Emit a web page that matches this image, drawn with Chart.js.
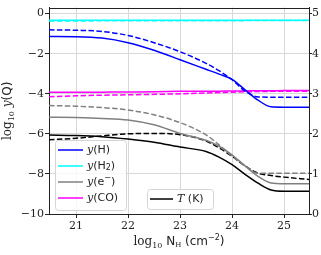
<!DOCTYPE html>
<html>
<head>
<meta charset="utf-8">
<script src="https://cdn.jsdelivr.net/npm/chart.js@4/dist/chart.umd.min.js"></script>
<style>
  body { margin: 0; background: #fff; }
  #c { display: block; }
</style>
</head>
<body>
<canvas id="c" width="321" height="255"></canvas>
<script>
// log10 N_H column
const xs = [20.48, 21, 21.5, 22, 22.5, 23, 23.5, 23.75, 24, 24.25, 24.5, 24.75, 25, 25.48];

// log10 abundances, solid / dashed models
const yH      = [-1.14, -1.15, -1.22, -1.45, -1.83, -2.30, -2.78, -3.02, -3.28, -3.80, -4.32, -4.65, -4.67, -4.67];
const yHd     = [-0.81, -0.83, -0.89, -1.09, -1.45, -1.90, -2.48, -2.85, -3.30, -3.87, -4.16, -4.17, -4.17, -4.17];
const yH2     = [-0.33, -0.33, -0.33, -0.33, -0.33, -0.33, -0.33, -0.33, -0.33, -0.33, -0.33, -0.33, -0.33, -0.33];
const yH2d    = [-0.37, -0.37, -0.36, -0.36, -0.36, -0.36, -0.35, -0.35, -0.35, -0.35, -0.34, -0.34, -0.34, -0.34];
const yE      = [-5.17, -5.19, -5.23, -5.31, -5.55, -5.98, -6.32, -6.62, -7.05, -7.60, -8.12, -8.45, -8.49, -8.49];
const yEd     = [-4.59, -4.62, -4.69, -4.81, -5.05, -5.44, -6.05, -6.55, -7.10, -7.60, -7.97, -7.97, -7.97, -7.97];
const yCO     = [-3.93, -3.93, -3.92, -3.91, -3.90, -3.88, -3.87, -3.87, -3.86, -3.86, -3.85, -3.85, -3.84, -3.84];
const yCOd    = [-4.15, -4.10, -4.07, -4.05, -4.03, -4.00, -3.96, -3.94, -3.92, -3.90, -3.89, -3.88, -3.87, -3.87];

// log10 T (right axis)
const tK      = [1.97, 1.96, 1.93, 1.87, 1.79, 1.67, 1.56, 1.42, 1.23, 0.99, 0.77, 0.60, 0.57, 0.57];
const tKd     = [1.85, 1.89, 1.95, 2.00, 2.01, 1.98, 1.82, 1.65, 1.44, 1.20, 1.02, 0.96, 0.92, 0.86];

const xTicks  = [21, 22, 23, 24, 25];
const yTicks  = [-10, -8, -6, -4, -2, 0];
const y2Ticks = [0, 1, 2, 3, 4, 5];

const serif = "'DejaVu Serif', serif";
const sans = "'DejaVu Sans', sans-serif";
const ink = '#222';
const dash = [5.5, 2.4];

const pts = (ys) => xs.map((x, i) => ({x: x, y: ys[i]}));
const minus = (v) => (v < 0 ? '\u2212' : '') + Math.abs(v);

function line(data, color, dashed, axis) {
    return {
        data: pts(data),
        borderColor: color,
        borderWidth: 1.5,
        borderDash: dashed ? dash : [],
        pointRadius: 0,
        cubicInterpolationMode: 'monotone',
        yAxisID: axis || 'y',
    };
}

// draw a run of text pieces, each with its own font and vertical shift
function richWidth(ctx, parts) {
    let w = 0;
    for (const p of parts) { ctx.font = p.f; w += ctx.measureText(p.t).width; }
    return w;
}
function richText(ctx, parts, x, y) {
    for (const p of parts) {
        ctx.font = p.f;
        ctx.fillText(p.t, x, y + (p.dy || 0));
        x += ctx.measureText(p.t).width;
    }
}

const legendA = [
    {c: 'blue', parts: [{t: 'y', f: 'italic 11px ' + serif}, {t: '(H)', f: '11px ' + sans}]},
    {c: 'cyan', parts: [{t: 'y', f: 'italic 11px ' + serif}, {t: '(H', f: '11px ' + sans}, {t: '2', f: '8px ' + sans, dy: 2}, {t: ')', f: '11px ' + sans}]},
    {c: 'gray', parts: [{t: 'y', f: 'italic 11px ' + serif}, {t: '(e', f: '11px ' + sans}, {t: '\u2212', f: '8px ' + sans, dy: -4}, {t: ')', f: '11px ' + sans}]},
    {c: 'magenta', parts: [{t: 'y', f: 'italic 11px ' + serif}, {t: '(CO)', f: '11px ' + sans}]},
];

function box(ctx, x, y, w, h) {
    ctx.save();
    ctx.beginPath();
    ctx.roundRect(x + 0.5, y + 0.5, w, h, 3);
    ctx.fillStyle = 'rgba(255,255,255,0.8)';
    ctx.fill();
    ctx.strokeStyle = '#d5d5d5';
    ctx.lineWidth = 1;
    ctx.stroke();
    ctx.restore();
}

const decor = {
    id: 'decor',
    afterDraw(chart) {
        const ctx = chart.ctx;
        const a = chart.chartArea;
        ctx.save();

        // top spine
        ctx.strokeStyle = ink;
        ctx.lineWidth = 1;
        ctx.beginPath();
        ctx.moveTo(a.left, Math.round(a.top) + 0.5);
        ctx.lineTo(a.right, Math.round(a.top) + 0.5);
        ctx.stroke();

        ctx.fillStyle = ink;
        ctx.textBaseline = 'middle';

        // legend for abundances
        box(ctx, 55, 140, 71, 70);
        legendA.forEach((e, i) => {
            const yy = 150 + i * 16;
            ctx.strokeStyle = e.c;
            ctx.lineWidth = 1.5;
            ctx.beginPath();
            ctx.moveTo(58, yy);
            ctx.lineTo(83, yy);
            ctx.stroke();
            richText(ctx, e.parts, 87, yy);
        });

        // legend for temperature
        box(ctx, 147, 189, 66, 20);
        ctx.strokeStyle = 'black';
        ctx.lineWidth = 1.5;
        ctx.beginPath();
        ctx.moveTo(150, 199);
        ctx.lineTo(173, 199);
        ctx.stroke();
        richText(ctx, [{t: 'T', f: 'italic 11px ' + serif}, {t: ' (K)', f: '11px ' + sans}], 177, 199);

        // x title
        ctx.textBaseline = 'alphabetic';
        const xt = [
            {t: 'log', f: '12px ' + serif},
            {t: '10', f: '8px ' + serif, dy: 3},
            {t: ' N', f: '12px ' + sans},
            {t: 'H', f: '7px ' + serif, dy: 2},
            {t: ' (cm', f: '12px ' + sans},
            {t: '\u22122', f: '8px ' + sans, dy: -5},
            {t: ')', f: '12px ' + sans},
        ];
        const cx = (a.left + a.right) / 2;
        richText(ctx, xt, cx - richWidth(ctx, xt) / 2, 245);

        // y title, rotated
        const yt = [
            {t: 'log', f: '12px ' + serif},
            {t: '10', f: '8px ' + serif, dy: 3},
            {t: ' ', f: '12px ' + serif},
            {t: 'y', f: 'italic 12px ' + serif},
            {t: '(Q)', f: '12px ' + sans},
        ];
        ctx.translate(11, (a.top + a.bottom) / 2);
        ctx.rotate(-Math.PI / 2);
        richText(ctx, yt, -richWidth(ctx, yt) / 2, 0);
        ctx.restore();
    }
};

const tickFont = {family: serif, size: 11};

new Chart(document.getElementById('c').getContext('2d'), {
    type: 'line',
    data: {
        datasets: [
            line(yH, 'blue', false),
            line(yHd, 'blue', true),
            line(yH2, 'cyan', false),
            line(yH2d, 'cyan', true),
            line(yE, 'gray', false),
            line(yEd, 'gray', true),
            line(yCO, 'magenta', false),
            line(yCOd, 'magenta', true),
            line(tK, 'black', false, 'y2'),
            line(tKd, 'black', true, 'y2'),
        ]
    },
    options: {
        responsive: false,
        animation: false,
        devicePixelRatio: 1,
        layout: {padding: {top: 7, left: 0, right: 0, bottom: 0}},
        plugins: {legend: {display: false}, tooltip: {enabled: false}},
        scales: {
            x: {
                type: 'linear',
                min: xs[0],
                max: xs[xs.length - 1],
                afterBuildTicks: s => { s.ticks = xTicks.map(v => ({value: v})); },
                afterFit: s => { s.height = 41; },
                grid: {color: '#d8d8d8', tickColor: ink, tickLength: 4},
                border: {color: ink, width: 1},
                ticks: {font: tickFont, color: ink, padding: 2, maxRotation: 0},
            },
            y: {
                position: 'left',
                min: -10,
                max: 0.3,
                afterBuildTicks: s => { s.ticks = yTicks.map(v => ({value: v})); },
                afterFit: s => { s.width = 49; },
                grid: {color: '#d8d8d8', tickColor: ink, tickLength: 4},
                border: {color: ink, width: 1},
                ticks: {font: tickFont, color: ink, padding: 1, callback: minus},
            },
            y2: {
                position: 'right',
                min: 0,
                max: 5.15,
                afterBuildTicks: s => { s.ticks = y2Ticks.map(v => ({value: v})); },
                afterFit: s => { s.width = 12; },
                grid: {drawOnChartArea: false, tickColor: ink, tickLength: 3},
                border: {color: ink, width: 1},
                ticks: {font: tickFont, color: ink, padding: 0},
            },
        },
    },
    plugins: [decor],
});
</script>
</body>
</html>
